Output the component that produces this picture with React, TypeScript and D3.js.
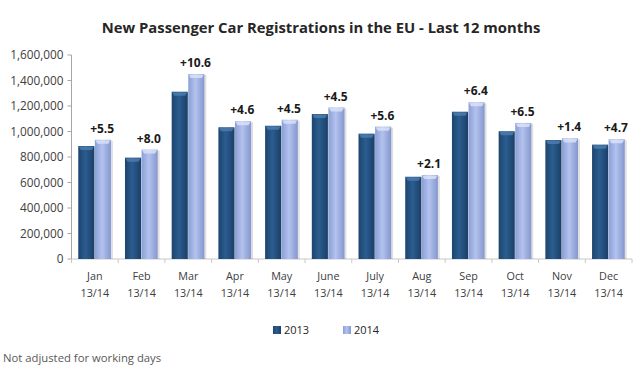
import React from 'react'
import * as d3 from 'd3'

const months = ['Jan', 'Feb', 'Mar', 'Apr', 'May', 'June', 'July', 'Aug', 'Sep', 'Oct', 'Nov', 'Dec']
const reg2013 = [886000, 795000, 1312000, 1033000, 1045000, 1137000, 983000, 645000, 1155000, 1002000, 933000, 897000]
const reg2014 = [935000, 858000, 1451000, 1080000, 1092000, 1188000, 1038000, 659000, 1229000, 1067000, 946000, 939000]
const changes = ['+5.5', '+8.0', '+10.6', '+4.6', '+4.5', '+4.5', '+5.6', '+2.1', '+6.4', '+6.5', '+1.4', '+4.7']
const yTicks = [0, 200000, 400000, 600000, 800000, 1000000, 1200000, 1400000, 1600000]

const W = 640
const H = 371
const font = "'Open Sans', 'DejaVu Sans', sans-serif"

export default function App() {
  const left = 71.5
  const right = 632
  const top = 55
  const bottom = 259

  const x = d3.scaleBand<string>().domain(months).range([left, right]).paddingInner(0.29).paddingOuter(0.145)
  const y = d3.scaleLinear().domain([0, 1600000]).range([bottom, top])
  const bw = x.bandwidth() / 2
  const step = x.step()
  const fmt = d3.format(',')

  const bar = (xPos: number, v: number, grad: string, cap: string, key: string) => {
    const yt = y(v)
    return (
      <g key={key}>
        <rect x={xPos + 1.5} y={yt + 1} width={bw} height={bottom - yt - 1} fill="#000" opacity={0.12} />
        <rect x={xPos} y={yt} width={bw - 0.5} height={bottom - yt} fill={`url(#${grad})`} />
        <path d={`M${xPos + 0.5},${yt + 0.5} L${xPos + bw - 1},${yt + 0.5} L${xPos + bw - 3},${yt + 4} L${xPos + 2.5},${yt + 4} Z`} fill={cap} opacity={0.8} />
      </g>
    )
  }

  return (
    <svg width={W} height={H} style={{ position: 'absolute', left: 0, top: 0, background: '#fff' }}>
      <defs>
        <linearGradient id="g13" x1="0" x2="1" y1="0" y2="0">
          <stop offset="0" stopColor="#1c446e" />
          <stop offset="0.45" stopColor="#2b5d8f" />
          <stop offset="1" stopColor="#1a3f68" />
        </linearGradient>
        <linearGradient id="g14" x1="0" x2="1" y1="0" y2="0">
          <stop offset="0" stopColor="#8a9fd6" />
          <stop offset="0.45" stopColor="#b3c2ee" />
          <stop offset="1" stopColor="#8497cf" />
        </linearGradient>
      </defs>

      <text x={321} y={33} textAnchor="middle" fontFamily={font} fontWeight="bold" fontSize={14.8} fill="#262626">
        New Passenger Car Registrations in the EU - Last 12 months
      </text>

      {/* y axis */}
      <line x1={left} x2={left} y1={top} y2={bottom} stroke="#a6a6a6" />
      {yTicks.map(t => (
        <g key={t}>
          <line x1={left - 4} x2={left} y1={y(t)} y2={y(t)} stroke="#a6a6a6" />
          <text x={left - 8} y={y(t)} dy="0.35em" textAnchor="end" fontFamily={font} fontSize={11.8} fill="#404040">
            {fmt(t)}
          </text>
        </g>
      ))}

      {/* x axis */}
      <line x1={left} x2={right} y1={bottom} y2={bottom} stroke="#c8c8c8" />
      {d3.range(13).map(i => (
        <line key={i} x1={left + i * step} x2={left + i * step} y1={bottom} y2={bottom + 4} stroke="#c8c8c8" />
      ))}

      {months.map((m, i) => {
        const x0 = x(m) as number
        const cx = x0 + x.bandwidth() / 2
        return (
          <g key={m}>
            {bar(x0, reg2013[i], 'g13', '#4d7fb0', 'a')}
            {bar(x0 + bw, reg2014[i], 'g14', '#dde4fa', 'b')}
            <text x={x0 + bw * 1.5 - 1} y={y(reg2014[i]) - 7} textAnchor="middle" fontFamily={font} fontWeight="bold" fontSize={12} fill="#1a1a1a">
              {changes[i]}
            </text>
            <text x={cx} y={280} textAnchor="middle" fontFamily={font} fontSize={10.8} fill="#404040">{m}</text>
            <text x={cx} y={297} textAnchor="middle" fontFamily={font} fontSize={10.8} fill="#404040">13/14</text>
          </g>
        )
      })}

      {/* legend */}
      <rect x={273} y={326} width={8} height={8} fill="url(#g13)" />
      <text x={284} y={334} fontFamily={font} fontSize={11} fill="#262626">2013</text>
      <rect x={343} y={326} width={8} height={8} fill="url(#g14)" />
      <text x={354} y={334} fontFamily={font} fontSize={11} fill="#262626">2014</text>

      <text x={3} y={362} fontFamily={font} fontSize={11.3} fill="#595959">Not adjusted for working days</text>
    </svg>
  )
}
